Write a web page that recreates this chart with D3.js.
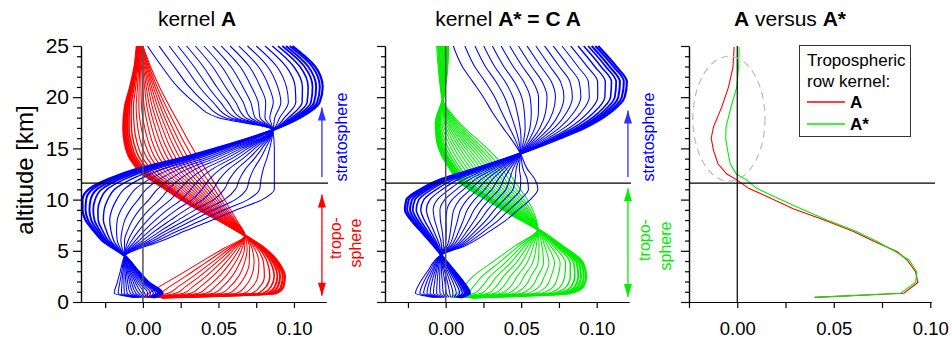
<!DOCTYPE html>
<html><head><meta charset="utf-8">
<script src="https://cdn.jsdelivr.net/npm/d3@7"></script>
<style>
html,body{margin:0;padding:0;background:#fff;}
svg{display:block;font-family:"Liberation Sans",Arial,Helvetica,sans-serif;}
</style></head><body>
<svg id="chart" width="952" height="342"></svg>
<script>
// ---------------- DATA (kernel values in units of 0.001) ----------------
const tropopauseKm = 11.6;
const yMajorTicks = [0, 5, 10, 15, 20, 25];
const yMinorTicks = [1,2,3,4,6,7,8,9,11,12,13,14,16,17,18,19,21,22,23,24];
const xMajorTicks = [0, 0.05, 0.10];
const xMinorTicks = [-0.025, 0.025, 0.075];

// Panel 1, tropospheric rows of kernel A (red): one row per altitude, one column per line
const redAlt = [0.45, 0.85, 1.5, 2.5, 3.8, 5.2, 6.5, 8, 9.5, 11, 12.5, 14, 15.5, 17, 19, 21, 23, 25];
const redRows = [
 [13,12.7,12.4,12.1,11.7,11.2,10.5,9.8,9.0,8.2,7.4,6.6,5.9,5.1,4.3,3.5,2.7,2.0,1.0,0],
 [88,86.3,84.2,82.1,79.6,76.2,72.0,67,62.0,56.9,51.9,46.8,41.8,36.8,31.7,26.7,21.6,16.6,10.7,4],
 [93,91.4,89.3,87.3,84.8,81.5,77.4,72.5,67.6,62.7,57.7,52.8,47.9,43.0,38.1,33.1,28.2,23.3,17.6,11],
 [94,92.6,90.8,89.0,86.9,84.0,80.4,76.1,71.8,67.5,63.3,59.0,54.7,50.4,46.1,41.8,37.5,33.2,28.2,22.5],
 [90,88.9,87.6,86.3,84.7,82.6,79.9,76.8,73.6,70.4,67.2,64.0,60.9,57.7,54.5,51.3,48.1,45.0,41.2,37],
 [81,80.4,79.7,79.0,78.2,77.1,75.7,74,72.3,70.6,69.0,67.3,65.6,63.9,62.2,60.6,58.9,57.2,55.2,53],
 [67.5,67.5,67.5,67.5,67.5,67.5,67.5,67.5,67.5,67.5,67.5,67.5,67.5,67.5,67.5,67.5,67.5,67.5,67.5,67.5],
 [50,50.2,50.5,50.8,51.2,51.7,52.3,53,53.7,54.4,55.2,55.9,56.6,57.3,58.0,58.8,59.5,60.2,61.0,62],
 [31,31.5,32.1,32.8,33.5,34.5,35.8,37.3,38.8,40.3,41.8,43.3,44.8,46.3,47.8,49.3,50.8,52.3,54,56],
 [15,15.7,16.6,17.5,18.5,19.9,21.7,23.8,25.9,28.0,30.1,32.2,34.3,36.4,38.5,40.6,42.7,44.8,47.2,50],
 [0,0.9,2.0,3.0,4.4,6.1,8.3,10.9,13.5,16.1,18.7,21.3,23.9,26.5,29.1,31.8,34.4,37.0,40.0,43.5],
 [-8.5,-7.6,-6.5,-5.3,-4.0,-2.1,0.1,2.9,5.6,8.3,11.1,13.8,16.5,19.3,22.0,24.7,27.4,30.2,33.4,37],
 [-12,-11.1,-10.1,-9.0,-7.7,-6.0,-3.8,-1.3,1.3,3.9,6.5,9.1,11.7,14.2,16.8,19.4,22.0,24.6,27.6,31],
 [-13,-12.2,-11.3,-10.3,-9.2,-7.6,-5.7,-3.4,-1.1,1.2,3.6,5.9,8.2,10.5,12.8,15.1,17.4,19.7,22.4,25.5],
 [-12,-11.4,-10.7,-9.9,-9,-7.8,-6.3,-4.5,-2.7,-0.9,0.9,2.7,4.5,6.3,8.1,9.9,11.7,13.5,15.6,18],
 [-8.5,-8.1,-7.6,-7.1,-6.6,-5.8,-4.8,-3.6,-2.5,-1.3,-0.1,1.1,2.2,3.4,4.6,5.7,6.9,8.1,9.4,11],
 [-5.5,-5.3,-5.0,-4.8,-4.5,-4.0,-3.5,-2.9,-2.2,-1.6,-1.0,-0.4,0.3,0.9,1.5,2.2,2.8,3.4,4.2,5],
 [-4,-3.9,-3.8,-3.7,-3.6,-3.4,-3.2,-3,-2.8,-2.5,-2.3,-2.0,-1.8,-1.6,-1.3,-1.1,-0.8,-0.6,-0.3,0]
];

// Panel 1, stratospheric rows of kernel A (blue)
const blue1Alt = [0.45, 0.85, 1.9, 3.0, 4.5, 6, 7, 8, 9, 10, 11, 12, 13, 14, 15, 16.8, 18, 19.5, 21, 23, 25];
const blue1Rows = [
 [7,6.7,6.4,6.1,5.7,5.2,4.5,3.8,3.0,2.2,1.4,0.6,-0.2,-0.9,-1.7,-2.5,-3.3,-4.1,-5.0,-6],
 [13,12.4,11.6,10.8,9.8,8.5,6.9,5,3.1,1.2,-0.8,-2.7,-4.6,-6.5,-8.4,-10.4,-12.3,-14.2,-16.4,-19],
 [4,3.6,3.1,2.5,1.9,1.1,0.0,-1.3,-2.5,-3.8,-5.0,-6.3,-7.6,-8.8,-10.1,-11.3,-12.6,-13.9,-15.3,-17],
 [-3,-3.2,-3.5,-3.8,-4.2,-4.7,-5.3,-6,-6.7,-7.4,-8.2,-8.9,-9.6,-10.3,-11.0,-11.8,-12.5,-13.2,-14.0,-15],
 [-12,-12,-12,-12,-12,-12,-12,-12,-12,-12,-12,-12,-12,-12,-12,-12,-12,-12,-12,-12],
 [-27,-26.2,-25.2,-24.2,-23,-21.4,-19.4,-17,-14.6,-12.2,-9.8,-7.4,-5,-2.6,-0.2,2.2,4.6,7,9.8,13],
 [-33,-31.8,-30.2,-28.7,-26.8,-24.3,-21.2,-17.5,-13.8,-10.1,-6.3,-2.6,1.1,4.8,8.5,12.3,16.0,19.7,24.0,29],
 [-38,-36.3,-34.2,-32.1,-29.6,-26.2,-22.0,-17,-12.0,-6.9,-1.9,3.2,8.2,13.2,18.3,23.3,28.4,33.4,39.3,46],
 [-40,-38.0,-35.4,-32.9,-29.8,-25.7,-20.6,-14.5,-8.4,-2.3,3.9,10.0,16.1,22.2,28.3,34.5,40.6,46.7,53.8,62],
 [-40,-37.6,-34.6,-31.7,-28.1,-23.3,-17.4,-10.3,-3.1,4.0,11.2,18.3,25.5,32.6,39.7,46.9,54.0,61.2,69.5,79],
 [-36,-33.5,-30.5,-27.4,-23.7,-18.8,-12.6,-5.3,2.1,9.5,16.9,24.3,31.7,39.0,46.4,53.8,61.2,68.6,77.2,87],
 [-23,-20.8,-18.1,-15.3,-12,-7.6,-2.1,4.5,11.1,17.7,24.3,30.9,37.5,44.1,50.7,57.3,63.9,70.5,78.2,87],
 [-4,-2.2,0.1,2.4,5.1,8.7,13.3,18.8,24.2,29.7,35.1,40.6,46.1,51.5,57.0,62.4,67.9,73.4,79.7,87],
 [24,25.3,26.8,28.4,30.3,32.8,36.0,39.8,43.5,47.3,51.1,54.9,58.7,62.4,66.2,70.0,73.8,77.6,82.0,87],
 [48,48.8,49.8,50.7,51.9,53.5,55.4,57.8,60.1,62.4,64.8,67.1,69.5,71.8,74.1,76.5,78.8,81.2,83.9,87],
 [86,86,86,86,86,86,86,86,86,86,86,86,86,86,86,86,86,86,86,86],
 [104,102.9,101.6,100.2,98.6,96.4,93.7,90.5,87.3,84.0,80.8,77.5,74.3,71.1,67.8,64.6,61.3,58.1,54.3,50],
 [117,115.3,113.3,111.2,108.7,105.4,101.2,96.3,91.3,86.3,81.3,76.3,71.4,66.4,61.4,56.4,51.4,46.5,40.6,34],
 [119,117.1,114.7,112.3,109.4,105.6,100.8,95,89.2,83.5,77.7,71.9,66.2,60.4,54.7,48.9,43.2,37.4,30.7,23],
 [114,112.0,109.4,106.9,103.9,99.8,94.7,88.6,82.5,76.4,70.4,64.3,58.2,52.1,46.0,39.9,33.8,27.7,20.6,12.5],
 [99,97.1,94.7,92.3,89.4,85.6,80.8,75,69.2,63.5,57.7,51.9,46.2,40.4,34.7,28.9,23.2,17.4,10.7,3]
];

// Panel 2, tropospheric rows of kernel A* (green)
const greenAlt = [0.45, 0.85, 1.5, 2.5, 3.8, 5.5, 7.1, 8.5, 10, 11.5, 13, 14.5, 16, 17.5, 19.7, 21.5, 23, 25];
const greenRows = [
 [18,17.7,17.3,17.0,16.5,15.9,15.2,14.3,13.4,12.5,11.6,10.7,9.8,8.9,8.0,7.1,6.2,5.3,4.2,3],
 [82,80.5,78.7,76.8,74.6,71.6,67.9,63.5,59.1,54.6,50.2,45.7,41.3,36.9,32.4,28.0,23.5,19.1,13.9,8],
 [91,89.4,87.4,85.5,83.1,79.9,76.0,71.3,66.5,61.8,57.0,52.3,47.6,42.8,38.1,33.3,28.6,23.9,18.3,12],
 [93,91.5,89.6,87.8,85.5,82.5,78.8,74.3,69.8,65.3,60.8,56.3,51.8,47.3,42.8,38.3,33.8,29.3,24,18],
 [91,89.8,88.3,86.7,84.9,82.5,79.4,75.8,72.1,68.4,64.8,61.1,57.5,53.8,50.1,46.5,42.8,39.2,34.9,30],
 [77,76.4,75.6,74.8,73.9,72.7,71.1,69.3,67.4,65.5,63.7,61.8,60.0,58.1,56.2,54.4,52.5,50.7,48.5,46],
 [61,61,61,61,61,61,61,61,61,61,61,61,61,61,61,61,61,61,61,61],
 [44,44.3,44.7,45.1,45.5,46.1,46.9,47.8,48.7,49.6,50.5,51.4,52.3,53.2,54.1,55.0,55.9,56.8,57.8,59],
 [27,27.5,28.2,28.9,29.7,30.8,32.1,33.8,35.4,37.0,38.6,40.2,41.9,43.5,45.1,46.7,48.3,50.0,51.8,54],
 [11,11.7,12.6,13.5,14.6,16.0,17.8,20,22.2,24.3,26.5,28.6,30.8,33.0,35.1,37.3,39.4,41.6,44.1,47],
 [3,3.7,4.7,5.6,6.7,8.2,10.0,12.3,14.5,16.7,18.9,21.1,23.4,25.6,27.8,30.0,32.2,34.5,37.0,40],
 [-3,-2.3,-1.5,-0.6,0.4,1.8,3.5,5.5,7.5,9.6,11.6,13.7,15.7,17.7,19.8,21.8,23.9,25.9,28.3,31],
 [-6,-5.5,-4.8,-4.2,-3.4,-2.4,-1.1,0.5,2.1,3.6,5.2,6.7,8.3,9.9,11.4,13.0,14.5,16.1,17.9,20],
 [-6.5,-6.2,-5.8,-5.4,-5.0,-4.3,-3.6,-2.6,-1.7,-0.8,0.2,1.1,2.0,3.0,3.9,4.8,5.7,6.7,7.8,9],
 [-2,-2,-2,-2,-2,-2,-2,-2,-2,-2,-2,-2,-2,-2,-2,-2,-2,-2,-2,-2],
 [0,-0.1,-0.2,-0.3,-0.4,-0.6,-0.8,-1,-1.2,-1.5,-1.7,-2.0,-2.2,-2.4,-2.7,-2.9,-3.2,-3.4,-3.7,-4],
 [1,0.9,0.7,0.6,0.4,0.2,-0.1,-0.5,-0.9,-1.2,-1.6,-1.9,-2.3,-2.7,-3.0,-3.4,-3.7,-4.1,-4.5,-5],
 [1.5,1.4,1.2,1.0,0.8,0.5,0.1,-0.4,-0.8,-1.3,-1.7,-2.2,-2.6,-3.1,-3.5,-4.0,-4.4,-4.9,-5.4,-6]
];

// Panel 2, stratospheric rows of kernel A* (blue)
const blue2Alt = [0.45, 0.85, 1.9, 3.0, 4.6, 5.5, 7, 8, 9, 10, 11, 12, 13, 14.5, 16, 17, 18.5, 20, 21.5, 23, 25];
const blue2Rows = [
 [10,9.6,9.2,8.7,8.2,7.5,6.6,5.5,4.4,3.3,2.3,1.2,0.1,-1.0,-2.1,-3.1,-4.2,-5.3,-6.6,-8],
 [16,15.3,14.4,13.5,12.4,11.0,9.2,7,4.8,2.7,0.5,-1.6,-3.8,-6.0,-8.1,-10.3,-12.4,-14.6,-17.1,-20],
 [12,11.4,10.7,10.0,9.1,7.9,6.5,4.8,3.0,1.3,-0.5,-2.2,-4.0,-5.7,-7.4,-9.2,-10.9,-12.7,-14.7,-17],
 [6,5.6,5.2,4.7,4.2,3.5,2.6,1.5,0.4,-0.7,-1.7,-2.8,-3.9,-5.0,-6.1,-7.1,-8.2,-9.3,-10.6,-12],
 [-3,-3,-3,-3,-3,-3,-3,-3,-3,-3,-3,-3,-3,-3,-3,-3,-3,-3,-3,-3],
 [-8,-7.6,-7.1,-6.5,-5.9,-5.1,-4.0,-2.8,-1.5,-0.2,1.0,2.3,3.6,4.8,6.1,7.3,8.6,9.9,11.3,13],
 [-17,-16.1,-14.9,-13.7,-12.3,-10.4,-8.1,-5.3,-2.4,0.4,3.2,6.0,8.9,11.7,14.5,17.3,20.1,23.0,26.2,30],
 [-23,-21.7,-20.2,-18.6,-16.7,-14.2,-11.0,-7.3,-3.5,0.3,4.1,7.9,11.7,15.4,19.2,23.0,26.8,30.6,35.0,40],
 [-27,-25.5,-23.6,-21.8,-19.5,-16.5,-12.8,-8.3,-3.8,0.8,5.3,9.8,14.3,18.8,23.3,27.8,32.3,36.8,42,48],
 [-26,-24.4,-22.3,-20.3,-17.8,-14.5,-10.4,-5.5,-0.6,4.3,9.3,14.2,19.1,24.0,28.9,33.9,38.8,43.7,49.4,56],
 [-17,-15.4,-13.5,-11.5,-9.2,-6.1,-2.2,2.5,7.2,11.9,16.5,21.2,25.9,30.6,35.3,39.9,44.6,49.3,54.8,61],
 [-3,-1.8,-0.2,1.3,3.2,5.7,8.8,12.5,16.2,19.9,23.7,27.4,31.1,34.8,38.5,42.3,46.0,49.7,54.0,59],
 [19,19.7,20.6,21.5,22.5,23.9,25.7,27.8,29.9,32.0,34.1,36.2,38.3,40.4,42.5,44.6,46.7,48.8,51.2,54],
 [49.5,49.5,49.5,49.5,49.5,49.5,49.5,49.5,49.5,49.5,49.5,49.5,49.5,49.5,49.5,49.5,49.5,49.5,49.5,49.5],
 [76,75.3,74.5,73.7,72.7,71.4,69.7,67.8,65.8,63.8,61.8,59.8,57.9,55.9,53.9,51.9,49.9,48.0,45.6,43],
 [92,90.9,89.6,88.2,86.6,84.4,81.7,78.5,75.3,72.0,68.8,65.5,62.3,59.1,55.8,52.6,49.3,46.1,42.3,38],
 [109,107.4,105.5,103.5,101.2,98.1,94.2,89.5,84.8,80.1,75.5,70.8,66.1,61.4,56.7,52.1,47.4,42.7,37.2,31],
 [118.5,116.6,114.3,112.0,109.2,105.4,100.7,95.1,89.5,83.9,78.3,72.7,67.1,61.5,55.9,50.3,44.6,39.0,32.5,25],
 [120,118.0,115.4,112.9,109.8,105.7,100.6,94.5,88.4,82.3,76.1,70.0,63.9,57.8,51.7,45.5,39.4,33.3,26.2,18],
 [113,111.0,108.4,105.9,102.8,98.7,93.6,87.5,81.4,75.3,69.1,63.0,56.9,50.8,44.7,38.5,32.4,26.3,19.2,11],
 [101,99.1,96.7,94.3,91.4,87.6,82.8,77,71.2,65.5,59.7,53.9,48.2,42.4,36.7,30.9,25.2,19.4,12.7,5]
];

// Panel 3, one tropospheric row kernel: A (red) and A* (green)
const rowAlt = [0.45, 0.85, 1.9, 2.95, 4.1, 4.9, 5.9, 6.9, 8.0, 9.1, 10.3, 11.1, 11.9, 12.5, 13.5, 14.8, 16, 17.1, 19.05, 21, 22.95, 24.9];
const rowA     = [40, 86.3, 93.6, 92.4, 88, 83, 71, 60, 45, 29, 15.4, 5.9, 0, -5.4, -10, -12.3, -13.5, -12.3, -8, -4.5, -2.2, -1.6];
const rowAstar = [40, 84.6, 92.4, 93, 89, 82, 72.5, 61.5, 46.5, 33, 19, 10, 5, -0.5, -3.6, -5, -6, -5.8, -3.2, -0.2, 0.7, 1];
const legendLabels = ["A", "A*"];

// ---------------- DRAWING ----------------
const svg = d3.select("#chart");
const y = d3.scaleLinear().domain([0, 25]).range([302, 46]);
const BLUE = "#0000ff", RED = "#ff0000", GREEN = "#00ee00";
const panels = [
  {x: d3.scaleLinear().domain([-0.041, 0.1212]).range([81, 326]), labels: true, ext: 2},
  {x: d3.scaleLinear().domain([-0.0402, 0.1214]).range([385, 629]), labels: false, ext: 2},
  {x: d3.scaleLinear().domain([-0.025, 0.10038]).range([689, 931]), labels: false, ext: 4}
];
// line widths: the first columns form the dense (thick-looking) bundle
const bundleWidths = [2.2, 2.0, 2.0, 1.8, 1.6, 1.4, 1.2];

function family(g, x, alts, rows, color) {
  const line = d3.line().x(d => x(d[0] * 0.001)).y(d => y(d[1])).curve(d3.curveMonotoneY);
  const n = rows[0].length;
  for (let k = n - 1; k >= 0; k--) {
    const pts = alts.map((a, i) => [rows[i][k], a]);
    g.append("path").attr("d", line(pts)).attr("fill", "none")
      .attr("stroke", color).attr("stroke-width", k < bundleWidths.length ? bundleWidths[k] : 1.05);
  }
}

function axes(p) {
  const x = p.x;
  const [x0] = x.range();
  const g = svg.append("g");
  const ya = g.append("g").attr("transform", `translate(${x0},0)`)
    .call(d3.axisLeft(y).tickValues(yMajorTicks).tickSize(8).tickSizeOuter(0).tickPadding(4)
      .tickFormat(p.labels ? d3.format("d") : ""));
  g.append("g").attr("transform", `translate(${x0},0)`)
    .call(d3.axisLeft(y).tickValues(yMinorTicks).tickSize(4).tickSizeOuter(0).tickFormat(""));
  const xa = g.append("g").attr("transform", `translate(0,302)`)
    .call(d3.axisBottom(x).tickValues(xMajorTicks).tickSize(6).tickSizeOuter(0).tickPadding(14)
      .tickFormat(d3.format(".2f")));
  g.append("g").attr("transform", `translate(0,302)`)
    .call(d3.axisBottom(x).tickValues(xMinorTicks).tickSize(6).tickSizeOuter(0).tickFormat(""));
  g.selectAll("path.domain, line").attr("stroke", "#000").attr("stroke-width", 1.2);
  g.selectAll("text").attr("fill", "#000").attr("font-family", "Liberation Sans, Arial, sans-serif");
  ya.selectAll("text").attr("font-size", 21);
  xa.selectAll("text").attr("font-size", 18.5);
}

function refLines(p, zeroColor, zeroWidth) {
  const x = p.x;
  const [x0, x1] = x.range();
  svg.append("line").attr("x1", x(0)).attr("x2", x(0)).attr("y1", y(25)).attr("y2", y(0))
    .attr("stroke", zeroColor).attr("stroke-width", zeroWidth);
  svg.append("line").attr("x1", x0).attr("x2", x1 + p.ext)
    .attr("y1", y(tropopauseKm)).attr("y2", y(tropopauseKm))
    .attr("stroke", "#000").attr("stroke-width", 1.2);
}

function arrow(x, xv, a0, a1, color, twoHeads) {
  const X = x(xv);
  const g = svg.append("g");
  g.append("line").attr("x1", X).attr("x2", X).attr("y1", y(a0)).attr("y2", y(a1))
    .attr("stroke", color).attr("stroke-width", 1.3);
  const head = (tip, dir) => {
    const ty = y(tip);
    g.append("path").attr("d", `M${X},${ty} L${X-4},${ty + dir*13} L${X+4},${ty + dir*13} Z`)
      .attr("fill", color);
  };
  head(a1, 1);
  if (twoHeads) head(a0, -1);
}

function vtext(px, py, str, color, size) {
  svg.append("text").attr("transform", `translate(${px},${py}) rotate(-90)`)
    .attr("text-anchor", "middle").attr("dominant-baseline", "central")
    .attr("font-size", size).attr("fill", color).text(str);
}

const p1 = panels[0], p2 = panels[1], p3 = panels[2];
// Panel 1
const g1 = svg.append("g");
family(g1, p1.x, redAlt, redRows, RED);
family(g1, p1.x, blue1Alt, blue1Rows, BLUE);
refLines(p1, "#555", 1.5);
axes(p1);

// Panel 2
const g2 = svg.append("g");
family(g2, p2.x, greenAlt, greenRows, GREEN);
family(g2, p2.x, blue2Alt, blue2Rows, BLUE);
refLines(p2, "#555", 1.5);
axes(p2);

// Panel 3
const g3 = svg.append("g");
const rowLine = d3.line().x(d => p3.x(d[0] * 0.001)).y(d => y(d[1]));
refLines(p3, "#000", 1.2);
svg.append("ellipse").attr("cx", p3.x(-0.0043)).attr("cy", y(17.9))
  .attr("rx", p3.x(0.0144) - p3.x(-0.0043)).attr("ry", y(11.8) - y(17.9))
  .attr("fill", "none").attr("stroke", "#bbb").attr("stroke-width", 1.2).attr("stroke-dasharray", "7,5");
g3.append("path").attr("d", rowLine(rowAlt.map((a, i) => [rowA[i], a])))
  .attr("fill", "none").attr("stroke", RED).attr("stroke-width", 1.1);
g3.append("path").attr("d", rowLine(rowAlt.map((a, i) => [rowAstar[i], a])))
  .attr("fill", "none").attr("stroke", GREEN).attr("stroke-width", 1.1);
axes(p3);

// Arrows and region labels
arrow(p1.x, 0.1185, 12.2, 19.0, "#3030ff", false);
arrow(p1.x, 0.1185, 0.6, 10.5, RED, true);
arrow(p2.x, 0.1207, 12.2, 18.7, "#3030ff", false);
arrow(p2.x, 0.1207, 0.5, 11.1, GREEN, true);
vtext(341, 137, "stratosphere", BLUE, 16);
vtext(335, 238, "tropo-", RED, 16);
vtext(355, 243, "sphere", RED, 16);
vtext(648, 137, "stratosphere", BLUE, 16);
vtext(644, 240, "tropo-", GREEN, 16);
vtext(665, 246, "sphere", GREEN, 16);

// Titles
const titleX = [197, 508, 790];
const t1 = svg.append("text").attr("x", titleX[0]).attr("y", 26).attr("text-anchor", "middle").attr("font-size", 21);
t1.append("tspan").text("kernel ");
t1.append("tspan").attr("font-weight", "bold").text("A");
const t2 = svg.append("text").attr("x", titleX[1]).attr("y", 26).attr("text-anchor", "middle").attr("font-size", 21);
t2.append("tspan").text("kernel ");
t2.append("tspan").attr("font-weight", "bold").text("A* = C A");
const t3 = svg.append("text").attr("x", titleX[2]).attr("y", 26).attr("text-anchor", "middle").attr("font-size", 21);
t3.append("tspan").attr("font-weight", "bold").text("A");
t3.append("tspan").text(" versus ");
t3.append("tspan").attr("font-weight", "bold").text("A*");

// Y axis title
vtext(24, 170, "altitude [km]", "#000", 24);

// Legend
const lg = svg.append("g");
lg.append("rect").attr("x", 799.5).attr("y", 45.5).attr("width", 111).attr("height", 91)
  .attr("fill", "#fff").attr("stroke", "#333").attr("stroke-width", 1);
lg.append("text").attr("x", 807).attr("y", 66).attr("font-size", 17).text("Tropospheric");
lg.append("text").attr("x", 807).attr("y", 87).attr("font-size", 17).text("row kernel:");
[[RED, 102], [GREEN, 124]].forEach(([c, yy], i) => {
  lg.append("line").attr("x1", 807).attr("x2", 845).attr("y1", yy).attr("y2", yy)
    .attr("stroke", c).attr("stroke-width", 1.3);
  lg.append("text").attr("x", 850).attr("y", yy + 6).attr("font-size", 17)
    .attr("font-weight", "bold").text(legendLabels[i]);
});
</script>
</body></html>
